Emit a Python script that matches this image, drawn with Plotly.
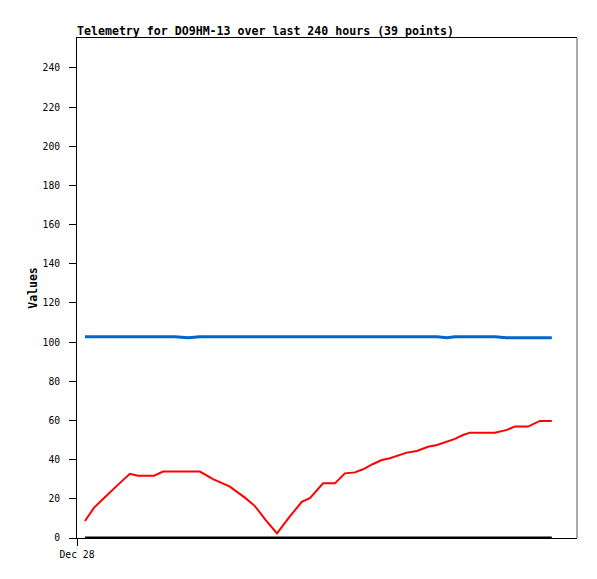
import plotly.graph_objects as go

# hours since axis start (Dec 28)
hours = [3.8, 8.2, 13.0, 17.3, 21.4, 25.4, 29.3, 37.0, 41.3, 47.0, 53.3, 59.0,
         65.3, 73.4, 80.6, 85.4, 90.7, 96.0, 101.8, 107.9, 111.8, 118.1, 123.8,
         128.6, 133.4, 137.3, 142.1, 146.3, 150.2, 155.0, 158.3, 163.1, 168.5,
         172.8, 177.6, 181.4, 185.3, 188.6, 200.6, 206.3, 210.2, 216.5, 222.2, 227.9]

red_vals = [8.7, 15.5, 20.4, 24.9, 28.9, 32.8, 31.8, 31.8, 33.9, 33.9, 33.9, 33.9,
            30.1, 26.2, 20.6, 16.3, 9.0, 2.4, 10.5, 18.5, 20.3, 27.9, 27.9,
            33.0, 33.5, 35.1, 37.8, 39.8, 40.7, 42.5, 43.6, 44.4, 46.6,
            47.5, 49.2, 50.6, 52.6, 53.8, 53.8, 55.2, 56.9, 56.9, 59.8, 59.8]

blue_vals = [102.8, 102.8, 102.8, 102.8, 102.8, 102.8, 102.8, 102.8, 102.8, 102.8, 102.2, 102.8,
             102.8, 102.8, 102.8, 102.8, 102.8, 102.8, 102.8, 102.8, 102.8, 102.8, 102.8,
             102.8, 102.8, 102.8, 102.8, 102.8, 102.8, 102.8, 102.8, 102.8, 102.8,
             102.8, 102.2, 102.8, 102.8, 102.8, 102.8, 102.2, 102.2, 102.2, 102.2, 102.2]

black_vals = [0.0] * len(hours)

title_text = "Telemetry for DO9HM-13 over last 240 hours (39 points)"
x_tick_vals = [0]
x_tick_text = ["Dec 28"]
y_ticks = list(range(0, 241, 20))

mono = "DejaVu Sans Mono"
W, H = 581, 563

fig = go.Figure()
fig.add_trace(go.Scatter(x=hours, y=black_vals, mode="lines",
                         line=dict(color="#000000", width=3)))
fig.add_trace(go.Scatter(x=hours, y=blue_vals, mode="lines",
                         line=dict(color="#0066cc", width=3)))
fig.add_trace(go.Scatter(x=hours, y=red_vals, mode="lines",
                         line=dict(color="#ff0000", width=2)))

fig.update_layout(
    width=W, height=H,
    margin=dict(l=69, r=12, t=30, b=33),
    paper_bgcolor="white", plot_bgcolor="white",
    showlegend=False,
    title=dict(text="<b>" + title_text + "</b>", x=69 / W, xanchor="left",
               xref="container", y=1 - 23 / H, yanchor="middle", yref="container",
               font=dict(family=mono, size=11.6, color="black")),
    xaxis=dict(range=[0, 240], tickvals=x_tick_vals, ticktext=x_tick_text,
               showgrid=False, zeroline=False, showline=True, linecolor="black",
               mirror=True, ticks="outside", ticklen=7, tickcolor="black",
               tickfont=dict(family=mono, size=9.7, color="black")),
    yaxis=dict(range=[0, 255.3], tickvals=y_ticks, showgrid=False, zeroline=False,
               showline=True, linecolor="black", ticks="outside", ticklen=7,
               tickcolor="black", ticklabelstandoff=7,
               tickfont=dict(family=mono, size=9.7, color="black"),
               title=dict(text="<b>Values</b>", standoff=2,
                          font=dict(family=mono, size=11.5, color="black"))),
    shapes=[dict(type="line", xref="paper", yref="paper", x0=1, x1=1, y0=0, y1=1,
                 line=dict(color="#555555", width=1))],
)

fig.write_html("out.html")
